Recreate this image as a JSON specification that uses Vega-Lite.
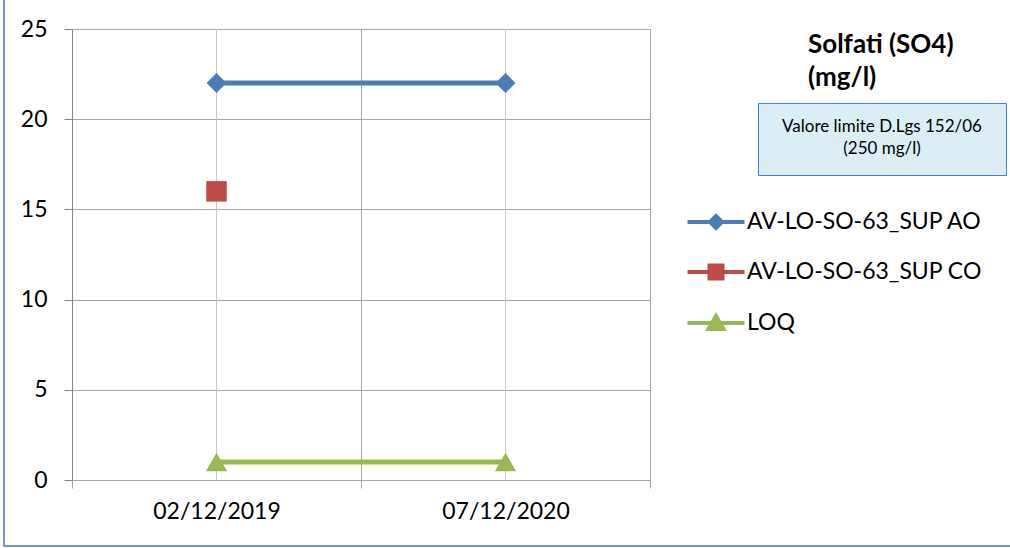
{
  "$schema": "https://vega.github.io/schema/vega-lite/v6.json",
  "width": 578,
  "height": 451,
  "autosize": "none",
  "padding": {"left": 72, "top": 29, "right": 360, "bottom": 68},
  "background": "white",
  "config": {"font": "Lato", "view": {"stroke": null}},
  "title": {
    "text": ["Solfati (SO4)", "(mg/l)"],
    "orient": "top",
    "anchor": "start",
    "frame": "group",
    "offset": 0,
    "dx": 736,
    "dy": 107,
    "fontSize": 26,
    "fontWeight": "bold",
    "lineHeight": 33,
    "color": "#000000"
  },
  "data": {
    "values": [
      {"data": "02/12/2019", "serie": "AV-LO-SO-63_SUP AO", "valore": 22},
      {"data": "07/12/2020", "serie": "AV-LO-SO-63_SUP AO", "valore": 22},
      {"data": "02/12/2019", "serie": "AV-LO-SO-63_SUP CO", "valore": 16},
      {"data": "02/12/2019", "serie": "LOQ", "valore": 1},
      {"data": "07/12/2020", "serie": "LOQ", "valore": 1}
    ]
  },
  "encoding": {
    "x": {
      "field": "data",
      "type": "ordinal",
      "scale": {"type": "band", "paddingInner": 0, "paddingOuter": 0},
      "axis": {
        "title": null,
        "labelAngle": 0,
        "tickBand": "extent",
        "grid": true,
        "gridColor": "#a6a6a6",
        "domainColor": "#a6a6a6",
        "tickColor": "#a6a6a6",
        "tickSize": 8,
        "labelFontSize": 23,
        "labelColor": "#000000",
        "labelPadding": 12
      }
    },
    "y": {
      "field": "valore",
      "type": "quantitative",
      "scale": {"domain": [0, 25], "nice": false},
      "axis": {
        "title": null,
        "values": [0, 5, 10, 15, 20, 25],
        "grid": true,
        "gridColor": "#a6a6a6",
        "domainColor": "#868686",
        "tickColor": "#868686",
        "tickSize": 8,
        "labelFontSize": 23,
        "labelPadding": 17,
        "labelColor": "#000000"
      }
    }
  },
  "layer": [
    {
      "mark": {"type": "rule", "color": "#c8c8c8", "strokeWidth": 1},
      "encoding": {
        "y": {"datum": 0},
        "y2": {"datum": 25}
      }
    },
    {
      "mark": {"type": "line", "strokeWidth": 5},
      "encoding": {
        "color": {
          "field": "serie",
          "type": "nominal",
          "scale": {"domain": ["AV-LO-SO-63_SUP AO", "AV-LO-SO-63_SUP CO", "LOQ"], "range": ["#4a7ebb", "#be4b48", "#98b954"]},
          "legend": null
        }
      }
    },
    {
      "transform": [{"filter": "datum.serie === 'AV-LO-SO-63_SUP AO'"}],
      "mark": {"type": "point", "filled": true, "size": 400, "opacity": 1, "shape": "diamond"},
      "encoding": {
        "color": {"field": "serie", "type": "nominal", "legend": null}
      }
    },
    {
      "transform": [{"filter": "datum.serie === 'AV-LO-SO-63_SUP CO'"}],
      "mark": {"type": "point", "filled": true, "size": 420, "opacity": 1, "shape": "square"},
      "encoding": {
        "color": {"field": "serie", "type": "nominal", "legend": null}
      }
    },
    {
      "transform": [{"filter": "datum.serie === 'LOQ'"}],
      "mark": {"type": "point", "filled": true, "size": 450, "opacity": 1, "shape": "triangle-up"},
      "encoding": {
        "color": {"field": "serie", "type": "nominal", "legend": null}
      }
    },
    {
      "mark": {"type": "point", "filled": true, "size": 0},
      "encoding": {
        "fill": {
          "field": "serie",
          "type": "nominal",
          "scale": {"range": ["#4a7ebb", "#be4b48", "#98b954"]},
          "legend": {"title": null, "orient": "none", "legendX": 632, "legendY": 181, "padding": 0, "symbolSize": 400, "symbolStrokeWidth": 4, "symbolOpacity": 1, "labelFontSize": 23, "labelColor": "#000000", "labelOffset": 19, "rowPadding": 21, "labelLimit": 400}
        },
        "stroke": {
          "field": "serie",
          "type": "nominal",
          "scale": {"range": ["#4a7ebb", "#be4b48", "#98b954"]},
          "legend": {"title": null, "orient": "none", "legendX": 632, "legendY": 181, "padding": 0, "symbolSize": 400, "symbolStrokeWidth": 4, "symbolOpacity": 1, "labelFontSize": 23, "labelColor": "#000000", "labelOffset": 19, "rowPadding": 21, "labelLimit": 400}
        },
        "shape": {
          "field": "serie",
          "type": "nominal",
          "scale": {
            "range": [
              "M-2.85,0H2.85M0,-0.6L0.6,0L0,0.6L-0.6,0Z",
              "M-2.85,0H2.85M-0.65,-0.65H0.65V0.65H-0.65Z",
              "M-2.85,0H2.85M0,-0.7L0.75,0.6H-0.75Z"
            ]
          },
          "legend": {"title": null, "orient": "none", "legendX": 632, "legendY": 181, "padding": 0, "symbolSize": 400, "symbolStrokeWidth": 4, "symbolOpacity": 1, "labelFontSize": 23, "labelColor": "#000000", "labelOffset": 19, "rowPadding": 21, "labelLimit": 400}
        }
      }
    },
    {
      "transform": [{"filter": "false"}],
      "mark": {"type": "point"},
      "encoding": {
        "strokeDash": {
          "datum": "box",
          "legend": {
            "title": ["Valore limite D.Lgs 152/06", "(250 mg/l)"],
            "orient": "none",
            "legendX": 686,
            "legendY": 74,
            "padding": 16,
            "fillColor": "#dbeef4",
            "strokeColor": "#3a86d0",
            "titleFontSize": 17,
            "titleFontWeight": "normal",
            "titleColor": "#000000",
            "titleAlign": "center",
            "titleAnchor": "middle",
            "titleLineHeight": 22,
            "titlePadding": 0,
            "titleLimit": 400,
            "symbolType": "M0,0H215",
            "symbolSize": 4,
            "symbolStrokeWidth": 0,
            "symbolOpacity": 0,
            "labelExpr": "''",
            "labelFontSize": 1
          }
        }
      }
    },
    {
      "transform": [{"filter": "false"}],
      "mark": {"type": "point"},
      "encoding": {
        "strokeDash": {
          "datum": "frame",
          "legend": {
            "title": null,
            "orient": "none",
            "legendX": -69,
            "legendY": -44,
            "padding": 0,
            "strokeColor": "#6f96c8",
            "symbolType": "M0,0H1100V560",
            "symbolSize": 4,
            "symbolStrokeWidth": 0,
            "symbolOpacity": 0,
            "labelExpr": "''",
            "labelFontSize": 1
          }
        }
      }
    },
    {
      "transform": [{"filter": "false"}],
      "mark": {"type": "point"},
      "encoding": {
        "strokeDash": {
          "datum": "frame2",
          "legend": {
            "title": null,
            "orient": "none",
            "legendX": -68,
            "legendY": -45,
            "padding": 0,
            "strokeColor": "#6f96c8",
            "symbolType": "M0,0H1100V560",
            "symbolSize": 4,
            "symbolStrokeWidth": 0,
            "symbolOpacity": 0,
            "labelExpr": "''",
            "labelFontSize": 1
          }
        }
      }
    }
  ],
  "resolve": {"scale": {"strokeDash": "independent"}}
}
